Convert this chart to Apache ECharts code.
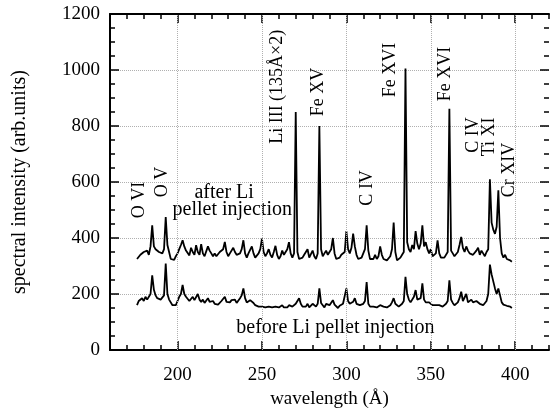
<!DOCTYPE html>
<html>
<head>
<meta charset="utf-8">
<script src="https://cdn.jsdelivr.net/npm/echarts@6/dist/echarts.min.js"></script>
<style>
  html, body { margin: 0; background: #fff; }
  #chart { width: 552px; height: 414px; }
</style>
</head>
<body>
<div id="chart"></div>
<script>
// wavelength grid (Å), one sample per Å
const wavelength = [
  176, 177, 178, 179, 180, 181, 182, 183, 184, 185,
  186, 187, 188, 189, 190, 191, 192, 193, 194, 195,
  196, 197, 198, 199, 200, 201, 202, 203, 204, 205,
  206, 207, 208, 209, 210, 211, 212, 213, 214, 215,
  216, 217, 218, 219, 220, 221, 222, 223, 224, 225,
  226, 227, 228, 229, 230, 231, 232, 233, 234, 235,
  236, 237, 238, 239, 240, 241, 242, 243, 244, 245,
  246, 247, 248, 249, 250, 251, 252, 253, 254, 255,
  256, 257, 258, 259, 260, 261, 262, 263, 264, 265,
  266, 267, 268, 269, 270, 271, 272, 273, 274, 275,
  276, 277, 278, 279, 280, 281, 282, 283, 284, 285,
  286, 287, 288, 289, 290, 291, 292, 293, 294, 295,
  296, 297, 298, 299, 300, 301, 302, 303, 304, 305,
  306, 307, 308, 309, 310, 311, 312, 313, 314, 315,
  316, 317, 318, 319, 320, 321, 322, 323, 324, 325,
  326, 327, 328, 329, 330, 331, 332, 333, 334, 335,
  336, 337, 338, 339, 340, 341, 342, 343, 344, 345,
  346, 347, 348, 349, 350, 351, 352, 353, 354, 355,
  356, 357, 358, 359, 360, 361, 362, 363, 364, 365,
  366, 367, 368, 369, 370, 371, 372, 373, 374, 375,
  376, 377, 378, 379, 380, 381, 382, 383, 384, 385,
  386, 387, 388, 389, 390, 391, 392, 393, 394, 395,
  396, 397, 398
];

// spectrum after Li pellet injection
const afterLi = [
  325, 330, 340, 335, 350, 345, 355, 340, 370, 445,
  370, 360, 355, 350, 355, 345, 360, 475, 375, 350,
  325, 318, 322, 335, 345, 360, 375, 392, 370, 355,
  350, 338, 365, 350, 340, 374, 350, 340, 378, 345,
  335, 340, 370, 355, 345, 335, 345, 335, 340, 350,
  355, 360, 386, 350, 335, 345, 340, 365, 350, 340,
  335, 345, 360, 392, 345, 330, 345, 350, 370, 345,
  330, 335, 345, 360, 398, 350, 335, 345, 360, 340,
  330, 350, 372, 340, 325, 335, 355, 340, 345, 360,
  385, 345, 330, 345, 850, 350, 325, 320, 330, 340,
  345, 360, 330, 325, 355, 335, 325, 345, 800, 360,
  335, 345, 355, 340, 345, 360, 400, 345, 325, 320,
  330, 340, 335, 350, 425, 360, 345, 365, 416, 370,
  340, 325, 320, 330, 335, 360, 445, 355, 325, 320,
  325, 340, 325, 335, 370, 340, 325, 320, 320, 325,
  335, 360, 455, 350, 320, 315, 330, 340, 350, 1005,
  385, 360, 350, 375, 360, 425, 380, 360, 380, 445,
  370, 385, 360, 345, 360, 335, 330, 345, 392, 345,
  330, 325, 330, 335, 350, 862, 355, 345, 335, 340,
  350, 375, 404, 365, 350, 370, 355, 345, 350, 340,
  345, 355, 365, 340, 355, 345, 335, 350, 360, 610,
  455, 430, 415, 440, 570, 400, 345, 330, 340, 325,
  330, 320, 315
];

// spectrum before Li pellet injection
const beforeLi = [
  160, 175, 170, 185, 175, 190, 180, 185, 200, 267,
  215, 195, 185, 190, 180, 178, 195, 309, 200, 180,
  175, 160, 155, 160, 175, 190, 200, 232, 200, 190,
  185, 175, 180, 190, 178, 185, 200, 180, 172, 180,
  168, 175, 185, 172, 168, 175, 165, 170, 162, 168,
  175, 180, 190, 172, 165, 170, 178, 172, 180, 168,
  172, 185, 195, 220, 185, 170, 175, 178, 180, 168,
  160, 162, 155, 152, 155, 150, 152, 150, 155, 150,
  152, 150, 155, 150, 152, 155, 160, 152, 155, 152,
  160, 158, 155, 160, 165, 175, 185, 165, 155, 148,
  155, 165, 152, 150, 165, 160, 155, 165, 220, 168,
  160, 152, 165, 170, 160, 165, 178, 162, 155, 150,
  158, 160, 165, 170, 220, 175, 165, 170, 172, 185,
  165, 158, 160, 162, 165, 175, 243, 165, 155, 152,
  155, 150, 152, 155, 160, 165, 155, 150, 152, 155,
  160, 170, 185, 165, 160, 155, 158, 165, 175, 261,
  200, 180, 170, 175, 190, 214, 180, 175, 185, 238,
  180, 170, 165, 170, 168, 160, 165, 160, 165, 160,
  158, 155, 160, 165, 175, 249, 180, 168, 160, 165,
  170, 185, 208, 175, 170, 200, 170, 165, 180, 170,
  165, 175, 180, 165, 170, 160, 165, 175, 200, 305,
  270, 245, 220, 200, 220, 195, 170, 162, 165, 158,
  160, 155, 150
];

const xTickLabels = [200, 250, 300, 350, 400];

// line identifications, placed at [wavelength, intensity]
const lineNames = ['O VI', 'O V', 'Li III (135Å×2)', 'Fe XV', 'C IV', 'Fe XVI', 'Fe XVI', 'C IV', 'Ti XI', 'Cr XIV'];
const lineNameAt = [
  [177.1, 536], [191.2, 600], [258.8, 940], [283.5, 921], [312.4, 579],
  [325.9, 1000], [358.8, 986], [375.3, 768], [384.7, 761], [396.5, 643]
];

const captions = ['after Li', 'pellet injection', 'before Li pellet injection'];
const captionAt = [[227.6, 561], [232.4, 500], [293.5, 79]];

const serif = "'Liberation Serif', 'Times New Roman', serif";
const black = '#000';
const gridGrey = '#b0b0b0';

const chart = echarts.init(document.getElementById('chart'));

const minorX = (position) => ({
  type: 'value',
  min: 160,
  max: 420,
  interval: 10,
  position: position,
  axisLine: { show: true, onZero: false, lineStyle: { color: black, width: 2 } },
  axisTick: { show: true, inside: true, length: 5, lineStyle: { color: black, width: 1.5 } },
  axisLabel: { show: false },
  splitLine: { show: false }
});

const majorX = (position) => ({
  type: 'value',
  min: 160,
  max: 420,
  position: position,
  axisLine: { show: false, onZero: false },
  axisTick: { show: true, inside: true, length: 9, customValues: xTickLabels, lineStyle: { color: black, width: 1.5 } },
  axisLabel: { show: false },
  splitLine: { show: false }
});

const yAxisBase = (position) => ({
  type: 'value',
  min: 0,
  max: 1200,
  interval: 200,
  position: position,
  axisLine: { show: true, onZero: false, lineStyle: { color: black, width: 2 } },
  axisTick: { show: true, inside: true, length: 9, lineStyle: { color: black, width: 1.5 } },
  minorTick: { show: true, splitNumber: 4, length: 5, lineStyle: { color: black, width: 1.5 } },
  axisLabel: { show: false },
  splitLine: { show: false }
});

const bottomAxis = minorX('bottom');
bottomAxis.axisLabel = {
  show: true,
  color: black,
  fontFamily: serif,
  fontSize: 19,
  margin: 16,
  formatter: (v) => (v % 50 === 0 ? String(v) : '')
};
bottomAxis.name = 'wavelength (Å)';
bottomAxis.nameLocation = 'middle';
bottomAxis.nameGap = 40;
bottomAxis.nameTextStyle = { color: black, fontFamily: serif, fontSize: 19 };

const leftAxis = yAxisBase('left');
leftAxis.axisLabel = { show: true, color: black, fontFamily: serif, fontSize: 19, margin: 10, formatter: (v) => String(v) };
leftAxis.splitLine = { show: true, lineStyle: { type: 'dotted', color: gridGrey, width: 1 } };
leftAxis.name = 'spectral intensity (arb.units)';
leftAxis.nameLocation = 'middle';
leftAxis.nameGap = 80;
leftAxis.nameTextStyle = { color: black, fontFamily: serif, fontSize: 20 };

const rightAxis = yAxisBase('right');
rightAxis.axisLine = { show: false, onZero: false };

chart.setOption({
  animation: false,
  backgroundColor: '#fff',
  grid: { left: 110, right: 0, top: 14, bottom: 64, containLabel: false },
  xAxis: [bottomAxis, minorX('top'), majorX('bottom'), majorX('top')],
  yAxis: [leftAxis, rightAxis],
  series: [
    {
      name: 'after',
      type: 'line',
      xAxisIndex: 0,
      yAxisIndex: 0,
      data: wavelength.map((w, i) => [w, afterLi[i]]),
      showSymbol: false,
      lineStyle: { color: black, width: 1.8 },
      markLine: {
        silent: true,
        symbol: ['none', 'none'],
        label: { show: false },
        lineStyle: { type: 'dotted', color: gridGrey, width: 1 },
        data: xTickLabels.map((v) => ({ xAxis: v }))
      },
      z: 3
    },
    {
      name: 'before',
      type: 'line',
      xAxisIndex: 0,
      yAxisIndex: 0,
      data: wavelength.map((w, i) => [w, beforeLi[i]]),
      showSymbol: false,
      lineStyle: { color: black, width: 1.8 },
      z: 3
    }
  ]
});

const texts = [];
lineNames.forEach((t, i) => {
  const p = chart.convertToPixel({ seriesIndex: 0 }, lineNameAt[i]);
  texts.push({
    type: 'text',
    x: p[0],
    y: p[1],
    rotation: Math.PI / 2,
    style: {
      text: t, fill: black, fontFamily: serif, fontSize: 18,
      textAlign: 'center', textVerticalAlign: 'middle'
    }
  });
});
captions.forEach((t, i) => {
  const p = chart.convertToPixel({ seriesIndex: 0 }, captionAt[i]);
  texts.push({
    type: 'text',
    x: p[0],
    y: p[1],
    style: {
      text: t, fill: black, fontFamily: serif, fontSize: 20,
      textAlign: 'center', textVerticalAlign: 'middle'
    }
  });
});
chart.setOption({ graphic: texts });
</script>
</body>
</html>
